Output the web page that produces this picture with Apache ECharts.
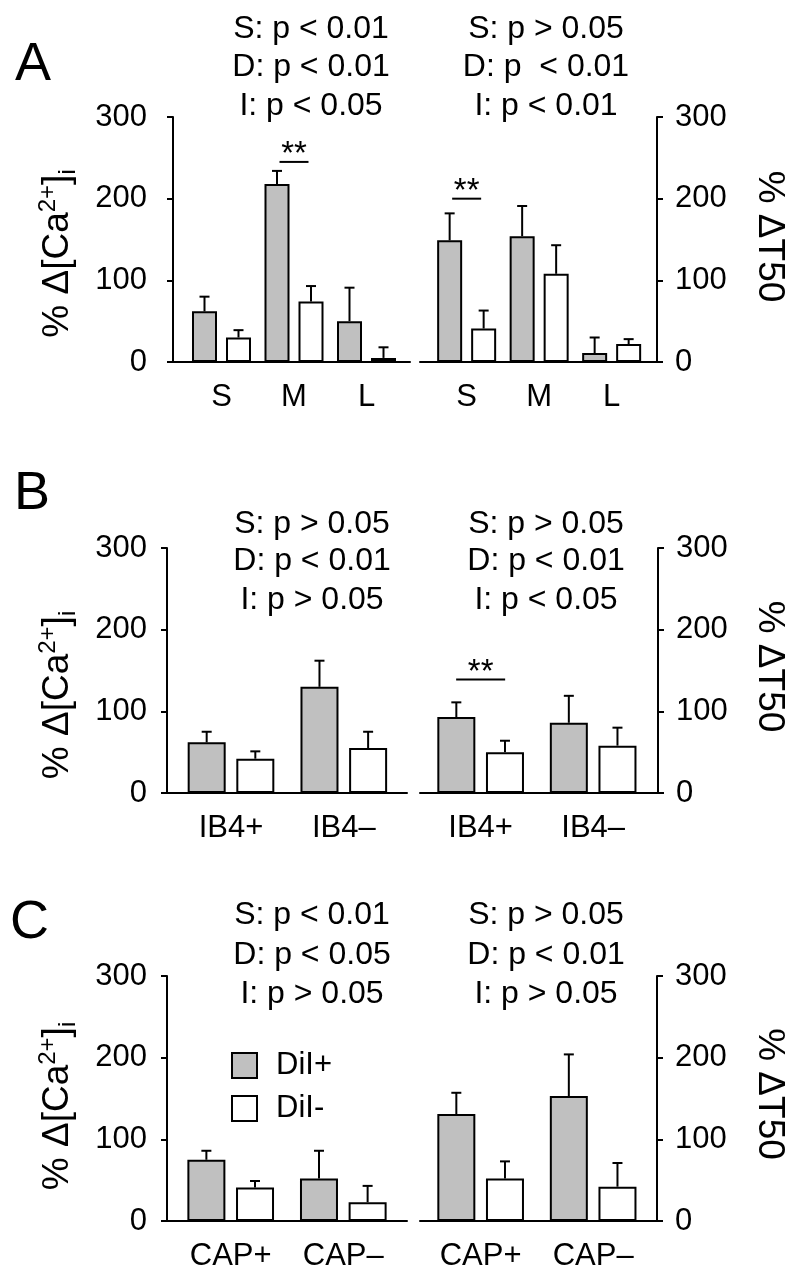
<!DOCTYPE html>
<html>
<head>
<meta charset="utf-8">
<script src="https://cdn.jsdelivr.net/npm/echarts@6/dist/echarts.min.js"></script>
<style>
html,body{margin:0;padding:0;background:#fff;}
#chart{width:800px;height:1284px;}
</style>
</head>
<body>
<div id="chart"></div>
<script>
// ---------------- DATA ----------------
const catA = ['S', 'M', 'L'];
const catB = ['IB4+', 'IB4–'];
const catC = ['CAP+', 'CAP–'];

const seriesNames = ['DiI+', 'DiI-'];

// Panel A: % Δ[Ca2+]i (left) and % ΔT50 (right)
const A_ca_pos = [62, 218, 50];
const A_ca_pos_sem = [18, 16, 41];
const A_ca_neg = [30, 74, 5];
const A_ca_neg_sem = [9, 19, 13];
const A_t50_pos = [149, 154, 11];
const A_t50_pos_sem = [33, 37, 19];
const A_t50_neg = [41, 108, 22];
const A_t50_neg_sem = [22, 35, 6];

// Panel B
const B_ca_pos = [62, 130];
const B_ca_pos_sem = [13, 32];
const B_ca_neg = [42, 55];
const B_ca_neg_sem = [9, 20];
const B_t50_pos = [93, 86];
const B_t50_pos_sem = [18, 33];
const B_t50_neg = [50, 58];
const B_t50_neg_sem = [14, 22];

// Panel C
const C_ca_pos = [75, 52];
const C_ca_pos_sem = [11, 34];
const C_ca_neg = [41, 23];
const C_ca_neg_sem = [8, 20];
const C_t50_pos = [131, 153];
const C_t50_pos_sem = [26, 51];
const C_t50_neg = [52, 42];
const C_t50_neg_sem = [21, 29];

// significance brackets (category, value)
const sigA_ca = [['M', 245]];
const sigA_t50 = [['S', 200]];
const sigB_t50 = [['IB4+', 139]];

// axis ticks
const yMin = 0, yMax = 300, yStep = 100;

// statistics texts
const pA_ca = ['S: p < 0.01', 'D: p < 0.01', 'I: p < 0.05'];
const pA_t50 = ['S: p > 0.05', 'D: p  < 0.01', 'I: p < 0.01'];
const pB_ca = ['S: p > 0.05', 'D: p < 0.01', 'I: p > 0.05'];
const pB_t50 = ['S: p > 0.05', 'D: p < 0.01', 'I: p < 0.05'];
const pC_ca = ['S: p < 0.01', 'D: p < 0.05', 'I: p > 0.05'];
const pC_t50 = ['S: p > 0.05', 'D: p < 0.01', 'I: p > 0.05'];

const panelLetters = ['A', 'B', 'C'];

// ---------------- LAYOUT / STYLE ----------------
const FONT = "'Liberation Sans', Arial, Helvetica, sans-serif";
const GRAY = '#c0c0c0';
const TICK_FS = 31;

const panels = [
  {cats: catA, pos: A_ca_pos, posSem: A_ca_pos_sem, neg: A_ca_neg, negSem: A_ca_neg_sem, sig: sigA_ca,
   side: 'left', frameL: 173, frameW: 237, barL: 185.25, barW: 217.5, top: 117, bw: 25, gap: 0.36, sigHalf: 14.5, labMargin: 26},
  {cats: catA, pos: A_t50_pos, posSem: A_t50_pos_sem, neg: A_t50_neg, negSem: A_t50_neg_sem, sig: sigA_t50,
   side: 'right', frameL: 420, frameW: 237, barL: 430.4, barW: 217.5, top: 117, bw: 25, gap: 0.36, sigHalf: 14.5, labMargin: 18},
  {cats: catB, pos: B_ca_pos, posSem: B_ca_pos_sem, neg: B_ca_neg, negSem: B_ca_neg_sem, sig: [],
   side: 'left', frameL: 167, frameW: 240, barL: 174.6, barW: 225.6, top: 548, bw: 38, gap: 0.28, sigHalf: 24.5, labMargin: 20},
  {cats: catB, pos: B_t50_pos, posSem: B_t50_pos_sem, neg: B_t50_neg, negSem: B_t50_neg_sem, sig: sigB_t50,
   side: 'right', frameL: 420, frameW: 238, barL: 424.4, barW: 225, top: 548, bw: 38, gap: 0.28, sigHalf: 24.5, labMargin: 18},
  {cats: catC, pos: C_ca_pos, posSem: C_ca_pos_sem, neg: C_ca_neg, negSem: C_ca_neg_sem, sig: [],
   side: 'left', frameL: 167, frameW: 240, barL: 174.4, barW: 225.2, top: 976, bw: 38, gap: 0.28, sigHalf: 24.5, labMargin: 20},
  {cats: catC, pos: C_t50_pos, posSem: C_t50_pos_sem, neg: C_t50_neg, negSem: C_t50_neg_sem, sig: [],
   side: 'right', frameL: 420, frameW: 237, barL: 424.4, barW: 225, top: 976, bw: 38, gap: 0.28, sigHalf: 24.5, labMargin: 18}
];
const PLOT_H = 245;

function errRender(bw, gap) {
  return function (params, api) {
    const idx = api.value(0), mean = api.value(1), sem = api.value(2), grp = api.value(3);
    const off = (grp === 0 ? -1 : 1) * bw * (1 + gap) / 2;
    const p0 = api.coord([idx, mean]);
    const p1 = api.coord([idx, mean + sem]);
    const x = p0[0] + off;
    const cap = 10;
    return {
      type: 'group',
      children: [
        {type: 'line', shape: {x1: x, y1: p0[1], x2: x, y2: p1[1]}, style: {stroke: '#000', lineWidth: 2}},
        {type: 'line', shape: {x1: x - cap / 2, y1: p1[1], x2: x + cap / 2, y2: p1[1]}, style: {stroke: '#000', lineWidth: 2}}
      ]
    };
  };
}

function sigRender(half) {
  return function (params, api) {
    const p = api.coord([api.value(0), api.value(1)]);
    return {
      type: 'group',
      children: [
        {type: 'line', shape: {x1: p[0] - half, y1: p[1], x2: p[0] + half, y2: p[1]}, style: {stroke: '#000', lineWidth: 2}},
        {type: 'text', x: p[0], y: p[1] - 7, style: {text: '**', fontSize: 33, fontFamily: FONT, fill: '#000', align: 'center', verticalAlign: 'middle'}}
      ]
    };
  };
}

const grid = [], xAxis = [], yAxis = [], series = [];

panels.forEach(function (p) {
  const fi = grid.length;
  grid.push({left: p.frameL, top: p.top, width: p.frameW, height: PLOT_H});
  xAxis.push({gridIndex: fi, type: 'value', min: 0, max: 1,
    axisLine: {show: true, onZero: false, lineStyle: {color: '#000', width: 2}},
    axisTick: {show: false}, axisLabel: {show: false}, splitLine: {show: false}});
  yAxis.push({gridIndex: fi, type: 'value', position: p.side, min: yMin, max: yMax, interval: yStep,
    axisLine: {show: true, onZero: false, lineStyle: {color: '#000', width: 2}},
    axisTick: {show: true, inside: false, length: 6, lineStyle: {color: '#000', width: 2}},
    axisLabel: {show: true, fontSize: TICK_FS, fontFamily: FONT, color: '#000', margin: p.labMargin},
    splitLine: {show: false}});

  const bi = grid.length;
  grid.push({left: p.barL, top: p.top, width: p.barW, height: PLOT_H});
  xAxis.push({gridIndex: bi, type: 'category', data: p.cats,
    axisLine: {show: false}, axisTick: {show: false},
    axisLabel: {show: true, interval: 0, fontSize: TICK_FS, fontFamily: FONT, color: '#000', margin: 20},
    splitLine: {show: false}});
  yAxis.push({gridIndex: bi, type: 'value', min: yMin, max: yMax, show: false, splitLine: {show: false}});

  const common = {type: 'bar', xAxisIndex: bi, yAxisIndex: bi, barWidth: p.bw, barGap: (p.gap * 100) + '%', animation: false};
  series.push(Object.assign({}, common, {name: seriesNames[0], data: p.pos,
    itemStyle: {color: GRAY, borderColor: '#000', borderWidth: 2}}));
  series.push(Object.assign({}, common, {name: seriesNames[1], data: p.neg,
    itemStyle: {color: '#fff', borderColor: '#000', borderWidth: 2}}));

  const errData = [];
  p.pos.forEach(function (v, i) { errData.push([i, v, p.posSem[i], 0]); });
  p.neg.forEach(function (v, i) { errData.push([i, v, p.negSem[i], 1]); });
  series.push({type: 'custom', xAxisIndex: bi, yAxisIndex: bi, renderItem: errRender(p.bw, p.gap),
    data: errData, z: 5, animation: false, silent: true});

  if (p.sig.length) {
    series.push({type: 'custom', xAxisIndex: bi, yAxisIndex: bi, renderItem: sigRender(p.sigHalf),
      data: p.sig.map(function (s) { return [p.cats.indexOf(s[0]), s[1]]; }), z: 5, animation: false, silent: true});
  }
});

// ---------------- TEXT ANNOTATIONS ----------------
const graphic = [];
const letterPos = [[15, 65], [14, 494], [10, 923]];
panelLetters.forEach(function (L, i) {
  graphic.push({type: 'text', x: letterPos[i][0], y: letterPos[i][1],
    style: {text: L, fontSize: 54, fontFamily: FONT, fill: '#000', align: 'left', verticalAlign: 'middle'}});
});

const pTexts = [
  [pA_ca, 311, [29, 67.5, 106]], [pA_t50, 546, [29, 67.5, 106]],
  [pB_ca, 312, [524, 561.5, 600]], [pB_t50, 546, [524, 561.5, 600]],
  [pC_ca, 312, [915, 955, 994]], [pC_t50, 546, [915, 955, 994]]
];
pTexts.forEach(function (t) {
  t[0].forEach(function (s, j) {
    graphic.push({type: 'text', x: t[1], y: t[2][j],
      style: {text: s, fontSize: 32, fontFamily: FONT, fill: '#000', align: 'center', verticalAlign: 'middle'}});
  });
});

const leftTitleY = [253.5, 695, 1106];
const rightTitleY = [236.5, 666.5, 1094];
leftTitleY.forEach(function (y) {
  graphic.push({type: 'text', x: 58, y: y, rotation: Math.PI / 2,
    style: {
      text: '{m|% Δ[Ca}{sup|2+}{m|]}{sub|i}',
      align: 'center', verticalAlign: 'middle', fontFamily: FONT, fill: '#000',
      rich: {
        m: {fontSize: 37, lineHeight: 44, fontFamily: FONT, fill: '#000'},
        sup: {fontSize: 24, lineHeight: 24, verticalAlign: 'top', fontFamily: FONT, fill: '#000'},
        sub: {fontSize: 24, lineHeight: 24, verticalAlign: 'bottom', fontFamily: FONT, fill: '#000'}
      }
    }});
});
rightTitleY.forEach(function (y) {
  graphic.push({type: 'text', x: 769, y: y, rotation: -Math.PI / 2,
    style: {text: '% ΔT50', fontSize: 37, fontFamily: FONT, fill: '#000', align: 'center', verticalAlign: 'middle'}});
});

const option = {
  backgroundColor: '#fff',
  animation: false,
  textStyle: {fontFamily: FONT},
  legend: {
    data: seriesNames, orient: 'vertical', left: 226, top: 1045,
    itemWidth: 25, itemHeight: 25, itemGap: 12, icon: 'rect', selectedMode: false,
    textStyle: {fontSize: 31, fontFamily: FONT, color: '#000', padding: [0, 0, 0, 14]}
  },
  grid: grid, xAxis: xAxis, yAxis: yAxis, series: series, graphic: graphic
};

const chart = echarts.init(document.getElementById('chart'), null, {renderer: 'canvas'});
chart.setOption(option);
</script>
</body>
</html>
